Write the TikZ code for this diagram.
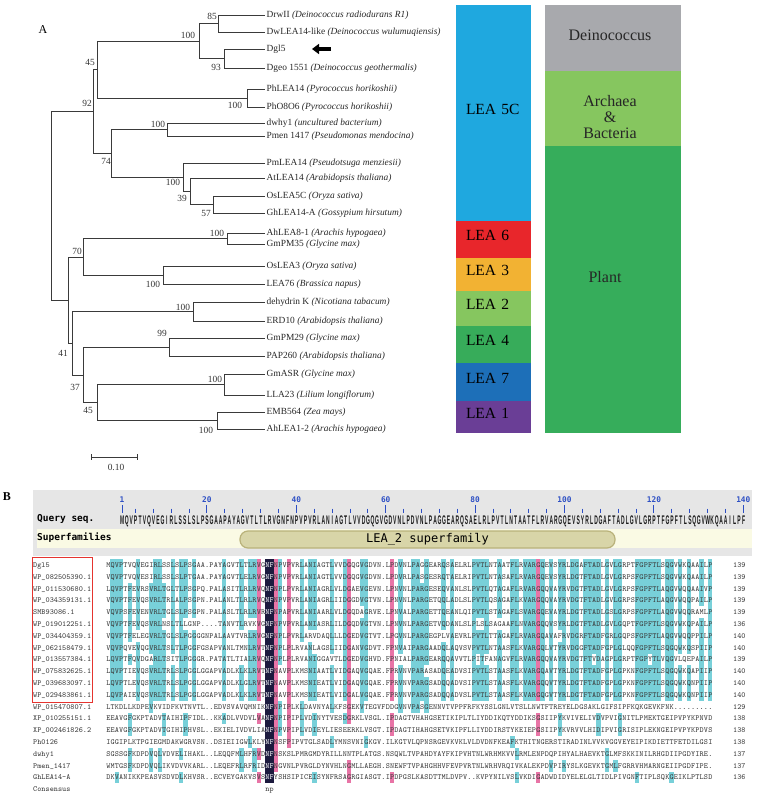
\documentclass[tikz,border=0pt]{standalone}
\usepackage{fontspec}
\usepackage{graphicx}
\setmainfont{Liberation Serif}
\newfontfamily\dvmono{DejaVu Sans Mono}
\newfontfamily\qsans{Liberation Sans}
\usetikzlibrary{arrows.meta}

\definecolor{lea5c}{HTML}{1FA8DF}
\definecolor{lea6}{HTML}{E8262B}
\definecolor{lea3}{HTML}{F2B233}
\definecolor{lea2}{HTML}{86C65F}
\definecolor{lea4}{HTML}{37AC5A}
\definecolor{lea7}{HTML}{1D6FB8}
\definecolor{lea1}{HTML}{6A3E96}
\definecolor{deinogrey}{HTML}{A8A9AD}
\definecolor{archgreen}{HTML}{86C65F}
\definecolor{plantgreen}{HTML}{36AD5B}
\definecolor{treeline}{HTML}{3A3A3A}
\definecolor{panelgrey}{HTML}{E6E6E6}
\definecolor{sfband}{HTML}{FAFAE4}
\definecolor{sffill}{HTML}{D8D5A8}
\definecolor{sfedge}{HTML}{B9B27A}
\definecolor{rulerblue}{HTML}{2D4FC4}
\definecolor{hlmidc}{HTML}{78D0D9}
\definecolor{hlhighc}{HTML}{E874A6}
\definecolor{hlfullc}{HTML}{1C1A3E}
\definecolor{alntext}{HTML}{3C3C3C}
\definecolor{boxred}{HTML}{E5342F}

\newcommand\alncw{4.3pt}
\newcommand\alnfont{\fontsize{7.8}{9}\selectfont\ttfamily}
\newcommand\treefont{\fontsize{9.4}{11}\selectfont}
\newcommand\qchar[1]{\scalebox{0.4}[1]{#1}}
% one shaded cell of the alignment: column, row, style
\newcommand\alncell[3]{\fill[#3] ({106+4.3*(#1-1)},{559.1+11.8*(#2-1)}) rectangle ++(4.3,11.8);}

\ExplSyntaxOn
\seq_new:N \g_aln_rows_seq
\clist_new:N \g_aln_fullcols_clist
\tl_new:N \l_aln_col_tl
\tl_new:N \l_aln_tmp_tl
\tl_new:N \l_aln_chr_tl
\tl_new:N \l_aln_best_tl
\tl_new:N \l_aln_hl_tl
\int_new:N \l_aln_best_int
\int_new:N \l_aln_cnt_int
\int_new:N \l_aln_row_int
\int_new:N \l_aln_pos_int
\cs_new_protected:Npn \alnaddrow #1
  { \seq_gput_right:Nn \g_aln_rows_seq {#1} }
\cs_new_protected:Npn \alnboxed #1#2#3
  { \tl_map_inline:nn {#3} { \makebox[#1][c]{#2{##1}} } }
% a row of the alignment, white letters on the fully kept columns
\cs_new_protected:Npn \alnrowtext #1
  {
    \tl_set:Nx \l_aln_tmp_tl { \seq_item:Nn \g_aln_rows_seq {#1} }
    \int_zero:N \l_aln_pos_int
    \tl_map_inline:Nn \l_aln_tmp_tl
      {
        \int_incr:N \l_aln_pos_int
        \exp_args:NNx \clist_if_in:NnTF \g_aln_fullcols_clist
          { \int_use:N \l_aln_pos_int }
          { \makebox[\alncw][c]{\color{white}##1} }
          { \makebox[\alncw][c]{##1} }
      }
  }
\cs_new_protected:Npn \aln_column:n #1
  {
    \tl_clear:N \l_aln_col_tl
    \seq_map_inline:Nn \g_aln_rows_seq
      { \tl_put_right:Nx \l_aln_col_tl { \tl_item:nn {##1} {#1} } }
    \int_zero:N \l_aln_best_int
    \tl_clear:N \l_aln_best_tl
    \tl_map_inline:Nn \l_aln_col_tl
      {
        \str_if_eq:nnF {##1} { . }
          {
            \tl_set_eq:NN \l_aln_tmp_tl \l_aln_col_tl
            \tl_remove_all:Nn \l_aln_tmp_tl {##1}
            \int_set:Nn \l_aln_cnt_int
              { \tl_count:N \l_aln_col_tl - \tl_count:N \l_aln_tmp_tl }
            \int_compare:nNnT { \l_aln_cnt_int } > { \l_aln_best_int }
              {
                \int_set_eq:NN \l_aln_best_int \l_aln_cnt_int
                \tl_set:Nn \l_aln_best_tl {##1}
              }
          }
      }
    \int_compare:nNnT { \l_aln_best_int } > { 9 }
      {
        \int_compare:nNnTF { \l_aln_best_int } = { 19 }
          {
            \tl_set:Nn \l_aln_hl_tl { hlfull }
            \clist_gput_right:Nn \g_aln_fullcols_clist {#1}
          }
          {
            \int_compare:nNnTF { \l_aln_best_int } > { 14 }
              { \tl_set:Nn \l_aln_hl_tl { hlhigh } }
              { \tl_set:Nn \l_aln_hl_tl { hlmid } }
          }
        \int_zero:N \l_aln_row_int
        \tl_map_inline:Nn \l_aln_col_tl
          {
            \int_incr:N \l_aln_row_int
            \tl_set:Nn \l_aln_chr_tl {##1}
            \tl_if_eq:NNT \l_aln_chr_tl \l_aln_best_tl
              {
                \use:x
                  {
                    \exp_not:N \alncell {#1}
                      { \int_use:N \l_aln_row_int } { \l_aln_hl_tl }
                  }
              }
          }
      }
  }
\cs_new_protected:Npn \alnshade
  { \int_step_function:nN { 141 } \aln_column:n }
\ExplSyntaxOff

% aligned sequences, in the order of the figure
\alnaddrow{MQVPTVQVEGIRLSSLSLPSGAA.PAYAGVTLTLRVGNFNPVPVRLANIAGTLVVDGQGVGDVN.LPDVNLPAGGEARQSAELRLPVTLNTAATFLRVARGQEVSYRLDGAFTADLGVLGRPTFGPFTLSQGVWKQAAILP}
\alnaddrow{VQVPTVQVESIRLSSLSLPTGAA.PAYAGVTLELRVGNFNPVPVRLANIAGTLVVDGQGVGDVN.LPDVRLPASGESRQTAELRIPVTLNTASAFLRVARGQEVSYRLDGTFTADLGVLGRPSFGPFTLSQGVWKQAAILP}
\alnaddrow{LQVPTFEVRSVRLTGLTLPSGPQ.PALASITLRLRVQNFNPLPVRLANIAGRLVLDGAEVGEVN.LPNVNLPARGESEQVANLSLPVTLQTAGAFLRVARGQQVAYRVDGTFTADLGVLGRPSFGPFTLAQGVWQQAAIVP}
\alnaddrow{VQVPTFEVQSVRLTRLALPSGPN.PALANLTLRLRVQNFNPVPVRLANIAGRLIIDGGDVGTVN.LPNVNLPARGETQQLADLSLPVTLQSAGAFLKVARGQQVAYRVDGTFTADLGVLGRPSFGPFTLAQGVWQQPAILP}
\alnaddrow{VQVPSFEVENVRLTGLSLPSGPN.PALASLTLRLRVRNFNPAPVRLANIAARLVLDGQDAGRVE.LPNVALPARGETTQEANLQIPVTLSTAGAFLSVARGQEVAYRLDGTFTADLGSLGRPSFGPFTLAQGVWQQRAMLP}
\alnaddrow{VQVPTFEVQSVRLNSLTLLGNP....TANVTLRVKVGNFNPVPVRLANIASRLILDGQDVGTVN.LPNVNLPARGETVQDANLSLPLSLSAGAAFLNVARGQQVSYRLDGTFTADLGVLGQPTFGPFTLSQGVWKQPAILP}
\alnaddrow{VQVPTFELEGVRLTGLSLPGGGGNPALAAVTVRLRVGNFNPLPVRLARVDAQLLLDGEDVGTVT.LPGVNLPARGEGPLVAEVRLPVTLTTAGAFLRVARGQAVAFRVDGRFTADFGRLGQPSFGPFTLAQGVWQQPPILP}
\alnaddrow{VQVPQVEVQGVRLTSLTLPGGFGSAPVANLTMNLRVTNFNPLPLRVANLAGSLIIDGANVGDVT.FPNVAIPARGAADQLAQVSVPVTLNTAASFLKVARGQLVTYRVDGGFTADFGPLGLQQFGPFTLSQGQWKQSPIIP}
\alnaddrow{LQVPTFQVDGARLTSITLPGGGR.PATATLTIALRVQNFNPLPLRVANIGGAVTLDGEDVGHVD.FPNIALPARGEARQQAVVTLPITFANAGVFLRVARGQQVAYRVDGTFTVDAGPLGRPTFGPYTLVQGVLQEPAILP}
\alnaddrow{LQVPTIEVQSVRLTRLSLPGGLGGAPVADLKLKLRVTNFNAVPLKMSNIAATLVIDGAQVGQAE.FPRVNVPARASADQEADVSIPVTLSTAASFLKVARGQAVTYRLDGTFTADFGPLGPKNFGPFTLSQGQWKQAPIIP}
\alnaddrow{LQVPTLEVQSVRLTRLSLPGGLGGAPVADLKLGLRVTNFNAVPLKMSNIEATLVIDGAQVGQAE.FPRVNVPARGSADQQADVSIPVTLSTAASFLKVARGQQVTYRLDGTFTADFGPLGPKNFGPFTLSQGQWKQNPIIP}
\alnaddrow{LQVPAIEVQSVRLTRLSLPGGLGGAPVADLKLKLRVTNFNAVPLKMSNIEATLVIDGALVGQAE.FPRVNVPARGSADQQADVSLPVTLSTAASFLKVARGQGVTYRLDGTFTADFGPLGPKNFGPFTLSQGQWKQNPIIP}
\alnaddrow{LTKDLLKDPEVKVIDFKVTNVTL..EDVSVAVQMNIKNFNPIPLKLDAVNYALKFSGEKVTEGVFDDGVNVPASGENNVTVPPFRFKYSSLGNLVTSLLNWTFTREYELDGSAKLGIFSIPFKQKGEVKFNK.........}
\alnaddrow{EEAVGFGKPTADVTAIHIPFIDL..KKADLVVDVLVANFNPIPIPLVDINYTVESDGRKLVSGL.IPDAGTVHAHGSETIKIPLTLIYDDIKQTYDDIKSGSIIPYKVIVELIVDVPVIGNITLPMEKTGEIPVPYKPNVD}
\alnaddrow{EEAVGFGKPTADVTGIHIPHVSL..EKIELIVDVLIANFNPVPIPLVDIEYLIESEERKLVSGT.IPDAGTIHAHGSETVKIPFLLIYDDIRSTYKEIEPGSIIPYKVRVVLHIDIPVIGRISIPLEKNGEIPVPYKPDVS}
\alnaddrow{IGGIPLKTPGIEGMDAKWGRVSN..DSIEIIGWLKLYNFNSFPIPVTGLSADLYMNSVNIGKGV.ILKGTVLQPNSRGEVKVKLVLDVDNFKEAFKTHITNGERSTIRADINLVVKVGGVEYEIPIKDIETTFETDILGSI}
\alnaddrow{SGSSGFKDPDVQLVDVELIHAKL..LEQQFMLHFRVDNFNSKSLPMRGMDYRILLNNTPLATGS.NSQWLTVPAHDYAYFKIPVHTNLWRHMKVVLRMLENPDQPIHYALHAEVKTGLMFSKKINILRHGDIIPGDYIRE.}
\alnaddrow{WMTGSFKDPDVQLIKVDVVKARL..LEQEFRLRFRIDNFNGVNLPVRGLDYNVHLNGMLLAEGH.SNEWFTVPAHGHHVFEVPVRTNLWRHVRQIVKALEKPDVPIRYSLKGEVKTGMLFGRRVHMARNGEIIPGDFIPE.}
\alnaddrow{DKVANIKKPEASVSDVDLKHVSR..ECVEYGAKVSVSNFYSHSIPICEISYNFRSAGRGIASGT.IPDPGSLKASDTTMLDVPV..KVPYNILVSLVKDIGADWDIDYELELGLTIDLPIVGNFTIPLSQKGEIKLPTLSD}

\begin{document}
\begin{tikzpicture}[x=1pt,y=-1pt,
  br/.style={draw=treeline,line width=0.8pt},
  leaf/.style={anchor=west,inner sep=1.5pt,font=\treefont,text=black!85},
  bs/.style={inner sep=0pt,font=\treefont,text=black!80},
  leaseg/.style={draw=none,minimum width=75pt,minimum height=#1,text width=55pt,align=left,
    inner xsep=10pt,font=\fontsize{15.5}{17}\selectfont,text height=10.5pt,text depth=8pt},
  grpseg/.style={draw=none,minimum width=136pt,minimum height=#1,inner sep=0pt},
  grptext/.style={font=\fontsize{16}{17}\selectfont,align=center,inner sep=0pt,text=black!85},
  hlmid/.style={fill=hlmidc},
  hlhigh/.style={fill=hlhighc},
  hlfull/.style={fill=hlfullc},
  seqname/.style={anchor=base west,inner sep=0pt,font=\alnfont,text=alntext},
  seqtext/.style={anchor=base west,inner sep=0pt,font=\alnfont,text=alntext},
  rnum/.style={inner sep=0pt,font=\dvmono\bfseries\fontsize{7.8}{8}\selectfont,text=rulerblue}]
\useasboundingbox (0,0) rectangle (767,800);

\node[font=\fontsize{12}{13}\selectfont] (pa) at (43,30) {A};
\node[font=\bfseries\fontsize{12}{13}\selectfont] (pb) at (7,497) {B};

% ---- tree leaves
\node[leaf] (drw) at (265,15) {DrwII \textit{(Deinococcus radiodurans R1)}};
\node[leaf] (dwl) at (265,32) {DwLEA14-like \textit{(Deinococcus wulumuqiensis)}};
\node[leaf] (dgl) at (265,49) {Dgl5};
\node[leaf] (dgeo) at (265,68) {Dgeo 1551 \textit{(Deinococcus geothermalis)}};
\node[leaf] (phl) at (265,89) {PhLEA14 \textit{(Pyrococcus horikoshii)}};
\node[leaf] (pho) at (265,107) {PhO8O6 \textit{(Pyrococcus horikoshii)}};
\node[leaf] (dwhy) at (265,123) {dwhy1 \textit{(uncultured bacterium)}};
\node[leaf] (pmen) at (265,136) {Pmen 1417 \textit{(Pseudomonas mendocina)}};
\node[leaf] (pml) at (265,163) {PmLEA14 \textit{(Pseudotsuga menziesii)}};
\node[leaf] (atl) at (265,178) {AtLEA14 \textit{(Arabidopsis thaliana)}};
\node[leaf] (osl5) at (265,196) {OsLEA5C \textit{(Oryza sativa)}};
\node[leaf] (ghl) at (265,213) {GhLEA14-A \textit{(Gossypium hirsutum)}};
\node[leaf] (ahl8) at (265,233) {AhLEA8-1 \textit{(Arachis hypogaea)}};
\node[leaf] (gm35) at (265,244) {GmPM35 \textit{(Glycine max)}};
\node[leaf] (osl3) at (265,266) {OsLEA3 \textit{(Oryza sativa)}};
\node[leaf] (lea76) at (265,284) {LEA76 \textit{(Brassica napus)}};
\node[leaf] (dehk) at (265,302) {dehydrin K \textit{(Nicotiana tabacum)}};
\node[leaf] (erd) at (265,321) {ERD10 \textit{(Arabidopsis thaliana)}};
\node[leaf] (gm29) at (265,338) {GmPM29 \textit{(Glycine max)}};
\node[leaf] (pap) at (265,356) {PAP260 \textit{(Arabidopsis thaliana)}};
\node[leaf] (gmasr) at (265,374) {GmASR \textit{(Glycine max)}};
\node[leaf] (lla) at (265,395) {LLA23 \textit{(Lilium longiflorum)}};
\node[leaf] (emb) at (265,412) {EMB564 \textit{(Zea mays)}};
\node[leaf] (ahl1) at (265,429) {AhLEA1-2 \textit{(Arachis hypogaea)}};

% ---- inner nodes
\coordinate (n85) at (218,23.5);
\coordinate (n93) at (224,58.5);
\coordinate (nde) at (199,41);
\coordinate (npy) at (247,98);
\coordinate (n45) at (97,69.5);
\coordinate (ndw) at (167,129.5);
\coordinate (n57) at (213,204.5);
\coordinate (n39) at (190,191);
\coordinate (npm) at (183,177);
\coordinate (n74) at (111,153);
\coordinate (n92) at (93,111);
\coordinate (nah) at (227,238.5);
\coordinate (nos) at (163,275);
\coordinate (n70) at (83,257);
\coordinate (ndh) at (193,311.5);
\coordinate (ngm) at (169,347);
\coordinate (nas) at (224,384.5);
\coordinate (nem) at (217,420.5);
\coordinate (n45b) at (97,402.5);
\coordinate (n37) at (83,375);
\coordinate (n41) at (72,343);
\coordinate (nlo) at (68,300);
\coordinate (root) at (51,205.5);

\draw[br] (n85) |- (drw.west);
\draw[br] (n85) |- (dwl.west);
\draw[br] (n93) |- (dgl.west);
\draw[br] (n93) |- (dgeo.west);
\draw[br] (nde) |- (n85);
\draw[br] (nde) |- (n93);
\draw[br] (npy) |- (phl.west);
\draw[br] (npy) |- (pho.west);
\draw[br] (n45) |- (nde);
\draw[br] (n45) |- (npy);
\draw[br] (ndw) |- (dwhy.west);
\draw[br] (ndw) |- (pmen.west);
\draw[br] (n57) |- (osl5.west);
\draw[br] (n57) |- (ghl.west);
\draw[br] (n39) |- (atl.west);
\draw[br] (n39) |- (n57);
\draw[br] (npm) |- (pml.west);
\draw[br] (npm) |- (n39);
\draw[br] (n74) |- (ndw);
\draw[br] (n74) |- (npm);
\draw[br] (n92) |- (n45);
\draw[br] (n92) |- (n74);
\draw[br] (nah) |- (ahl8.west);
\draw[br] (nah) |- (gm35.west);
\draw[br] (nos) |- (osl3.west);
\draw[br] (nos) |- (lea76.west);
\draw[br] (n70) |- (nah);
\draw[br] (n70) |- (nos);
\draw[br] (ndh) |- (dehk.west);
\draw[br] (ndh) |- (erd.west);
\draw[br] (ngm) |- (gm29.west);
\draw[br] (ngm) |- (pap.west);
\draw[br] (nas) |- (gmasr.west);
\draw[br] (nas) |- (lla.west);
\draw[br] (nem) |- (emb.west);
\draw[br] (nem) |- (ahl1.west);
\draw[br] (n45b) |- (nas);
\draw[br] (n45b) |- (nem);
\draw[br] (n37) |- (ngm);
\draw[br] (n37) |- (n45b);
\draw[br] (n41) |- (ndh);
\draw[br] (n41) |- (n37);
\draw[br] (nlo) |- (n70);
\draw[br] (nlo) |- (n41);
\draw[br] (root) |- (n92);
\draw[br] (root) |- (nlo);

% ---- bootstrap values
\node[bs] (b1) at (212,16) {85};
\node[bs] (b2) at (188,35) {100};
\node[bs] (b3) at (216,67) {93};
\node[bs] (b4) at (235,105) {100};
\node[bs] (b5) at (90,62) {45};
\node[bs] (b6) at (87,103) {92};
\node[bs] (b7) at (158,124) {100};
\node[bs] (b8) at (106,161) {74};
\node[bs] (b9) at (173,182) {100};
\node[bs] (b10) at (182,198) {39};
\node[bs] (b11) at (206,213) {57};
\node[bs] (b12) at (217,233) {100};
\node[bs] (b13) at (77,251) {70};
\node[bs] (b14) at (153,284) {100};
\node[bs] (b15) at (183,307) {100};
\node[bs] (b16) at (162,333) {99};
\node[bs] (b17) at (63,353) {41};
\node[bs] (b18) at (215,379) {100};
\node[bs] (b19) at (75,387) {37};
\node[bs] (b20) at (88,410) {45};
\node[bs] (b21) at (206,430) {100};

% arrow on Dgl5
\coordinate (arra) at (331,49);
\coordinate (arrb) at (312,49);
\draw[line width=3.5pt,-{Triangle[length=7pt,width=10pt]}] (arra) -- (arrb);

% scale bar
\coordinate (sba) at (91,457);
\coordinate (sbb) at (137,457);
\draw[br,line width=1pt] (sba) -- (sbb);
\draw[br,line width=1pt] ([yshift=3pt]sba) -- ([yshift=-3pt]sba);
\draw[br,line width=1pt] ([yshift=3pt]sbb) -- ([yshift=-3pt]sbb);
\node[bs] (sbl) at (116,467) {0.10};

% ---- LEA groups
\node[leaseg=216pt,fill=lea5c] (l5c) at (493.5,113) {LEA 5C};
\node[leaseg=37pt,fill=lea6] (l6) at (493.5,239.5) {LEA 6};
\node[leaseg=33pt,fill=lea3] (l3) at (493.5,274.5) {LEA 3};
\node[leaseg=35pt,fill=lea2] (l2) at (493.5,308.5) {LEA 2};
\node[leaseg=37pt,fill=lea4] (l4) at (493.5,344.5) {LEA 4};
\node[leaseg=38pt,fill=lea7] (l7) at (493.5,382) {LEA 7};
\node[leaseg=32pt,fill=lea1] (l1) at (493.5,417) {LEA 1};

\node[grpseg=66pt,fill=deinogrey] (gdeino) at (613,38) {};
\node[grpseg=75pt,fill=archgreen] (garch) at (613,108.5) {};
\node[grpseg=287pt,fill=plantgreen] (gplant) at (613,289.5) {};
\node[grptext] (tdeino) at (610,35) {Deinococcus};
\node[grptext] (tarch) at (610,117) {Archaea\\[-1pt]\&\\[-1pt]Bacteria};
\node[grptext] (tplant) at (605,277) {Plant};

% ---- panel B: query and superfamily
\fill[panelgrey] (33,490) rectangle (752,556);
\fill[sfband] (37,529) rectangle (752,548);
\node[draw=sfedge,fill=sffill,line width=1.2pt,rounded corners=8pt,minimum width=375pt,
  minimum height=17pt,inner sep=0pt,font=\dvmono\fontsize{12}{13}\selectfont] (lea2sf) at (427.5,539.5) {LEA\_2 superfamily};
\node[anchor=west,inner sep=0pt,font=\dvmono\bfseries\fontsize{9.5}{10}\selectfont] (qlab) at (37,519) {Query seq.};
\node[anchor=west,inner sep=0pt,font=\dvmono\bfseries\fontsize{9.5}{10}\selectfont] (slab) at (37,538) {Superfamilies};
\node[rnum] (r1) at (122,500) {1};
\draw[rulerblue,line width=1pt] (122,505) -- (122,513);
\foreach \r in {20,40,...,140} {
  \node[rnum] (r\r) at ({122+4.47*(\r-1)},500) {\r};
  \draw[rulerblue,line width=1pt] ({122+4.47*(\r-1)},505) -- ++(0,8);
}
\foreach \r in {4,8,...,136} {
  \pgfmathtruncatemacro\rm{mod(\r,20)}
  \ifnum\rm=0 \else
    \draw[rulerblue,line width=0.9pt] ({122+4.47*(\r-1)},508.5) -- ++(0,4.5);
  \fi
}
\node[anchor=base west,inner sep=0pt,font=\qsans\bfseries\fontsize{12.5}{13}\selectfont,text=black!90] (qseq) at (119.8,524)
  {\alnboxed{4.47pt}{\qchar}{MQVPTVQVEGIRLSSLSLPSGAAPAYAGVTLTLRVGNFNPVPVRLANIAGTLVVDGQGVGDVNLPDVNLPAGGEARQSAELRLPVTLNTAATFLRVARGQEVSYRLDGAFTADLGVLGRPTFGPFTLSQGVWKQAAILPF}};

% ---- alignment
\alnshade
\foreach \nm [count=\i] in {Dgl5,WP\_082505390.1,WP\_011530680.1,WP\_034359131.1,SMB93086.1,
  WP\_019012251.1,WP\_034404359.1,WP\_062158479.1,WP\_013557384.1,WP\_075832625.1,
  WP\_039683097.1,WP\_029483861.1,WP\_015470807.1,XP\_010255151.1,XP\_002461826.2,
  Ph0126,dwhy1,Pmen\_1417,GhLEA14-A} {
  \node[seqname] (nm\i) at (33,{567.5+11.8*(\i-1)}) {\nm};
  \node[seqtext] (sq\i) at (106,{567.5+11.8*(\i-1)}) {\alnrowtext{\i}};
}
\foreach \n [count=\i] in {139,139,139,139,139,136,140,140,139,140,140,140,129,138,138,138,137,137,136}
  \node[seqname] (len\i) at (733,{567.5+11.8*(\i-1)}) {\n};
\node[seqname] (nmcons) at (33,{567.5+11.8*19}) {Consensus};
\node[seqtext] (cons) at ({106+4.3*37},{567.5+11.8*19}) {\makebox[\alncw]{n}\makebox[\alncw]{p}};
\draw[boxred,line width=1pt] (32,557) rectangle (92,702);
\end{tikzpicture}
\end{document}
